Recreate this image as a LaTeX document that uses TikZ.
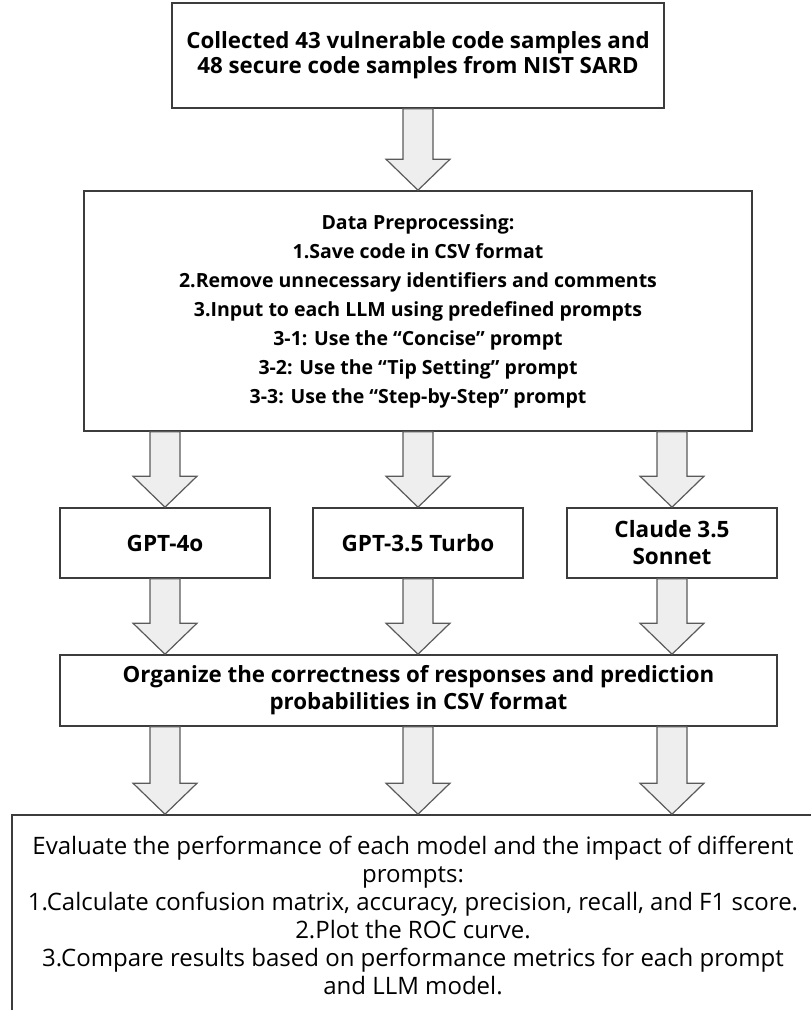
\documentclass[tikz,border=0pt]{standalone}
\usepackage{fontspec}
\setmainfont{Open Sans}
\usetikzlibrary{calc}

\definecolor{boxline}{HTML}{3C3C3C}
\definecolor{arrowline}{HTML}{5A5A5A}
\definecolor{arrowfill}{HTML}{EEEEEE}

\tikzset{
  box/.style={draw=boxline, line width=1.6pt, fill=white, align=center, inner sep=0pt},
  fatarrow/.style={draw=arrowline, line width=1.2pt, fill=arrowfill, line join=miter},
}

% #1 = x of the arrow, #2 = upper node, #3 = lower node
\newcommand{\downfat}[3]{%
  \draw[fatarrow] (#1-15,0 |- #2.south) -- (#1+15,0 |- #2.south)
    -- ($(#1+15,0 |- #3.north)+(0,-31)$) -- ($(#1+32,0 |- #3.north)+(0,-31)$)
    -- (#1,0 |- #3.north)
    -- ($(#1-32,0 |- #3.north)+(0,-31)$) -- ($(#1-15,0 |- #3.north)+(0,-31)$) -- cycle;}

\begin{document}
\begin{tikzpicture}[x=1pt,y=-1pt]
    \clip (0,0) rectangle (811,1010);
    %boxes
    \node[box, minimum width=492pt, minimum height=105pt, font=\bfseries\fontsize{22.3}{25}\selectfont] (collect) at (418,55.5)
        {Collected 43 vulnerable code samples and\\48 secure code samples from NIST SARD};
    \node[box, minimum width=668pt, minimum height=240pt, font=\bfseries\fontsize{19.5}{29}\selectfont] (prep) at (418,311)
        {Data Preprocessing:\\1.Save code in CSV format\\2.Remove unnecessary identifiers and comments\\
         3.Input to each LLM using predefined prompts\\3-1: Use the “Concise" prompt\\
         3-2: Use the “Tip Setting" prompt\\3-3: Use the “Step-by-Step" prompt};
    \node[box, minimum width=210pt, minimum height=70pt, font=\bfseries\fontsize{22.5}{27}\selectfont] (gpt4o) at (165,543) {GPT-4o};
    \node[box, minimum width=210pt, minimum height=70pt, font=\bfseries\fontsize{22.5}{27}\selectfont] (gpt35) at (418,543) {GPT-3.5 Turbo};
    \node[box, minimum width=210pt, minimum height=70pt, font=\bfseries\fontsize{22.5}{27}\selectfont] (claude) at (672,543) {Claude 3.5\\Sonnet};
    \node[box, minimum width=717pt, minimum height=71pt, font=\bfseries\fontsize{22.3}{27}\selectfont] (organize) at (418.5,690.5)
        {Organize the correctness of responses and prediction\\probabilities in CSV format};
    \node[box, minimum width=802pt, minimum height=201pt, font=\fontsize{24}{28}\selectfont] (evaluate) at (413,915.5)
        {Evaluate the performance of each model and the impact of different\\prompts:\\
         1.Calculate confusion matrix, accuracy, precision, recall, and F1 score.\\2.Plot the ROC curve.\\
         3.Compare results based on performance metrics for each prompt\\and LLM model.};
    %arrows
    \downfat{418}{collect}{prep}
    \foreach \x/\m in {165/gpt4o,418/gpt35,672/claude}
        \downfat{\x}{prep}{\m};
    \foreach \x/\m in {165/gpt4o,418/gpt35,672/claude}
        \downfat{\x}{\m}{organize};
    \foreach \x in {165,418,672}
        \downfat{\x}{organize}{evaluate};
\end{tikzpicture}
\end{document}
